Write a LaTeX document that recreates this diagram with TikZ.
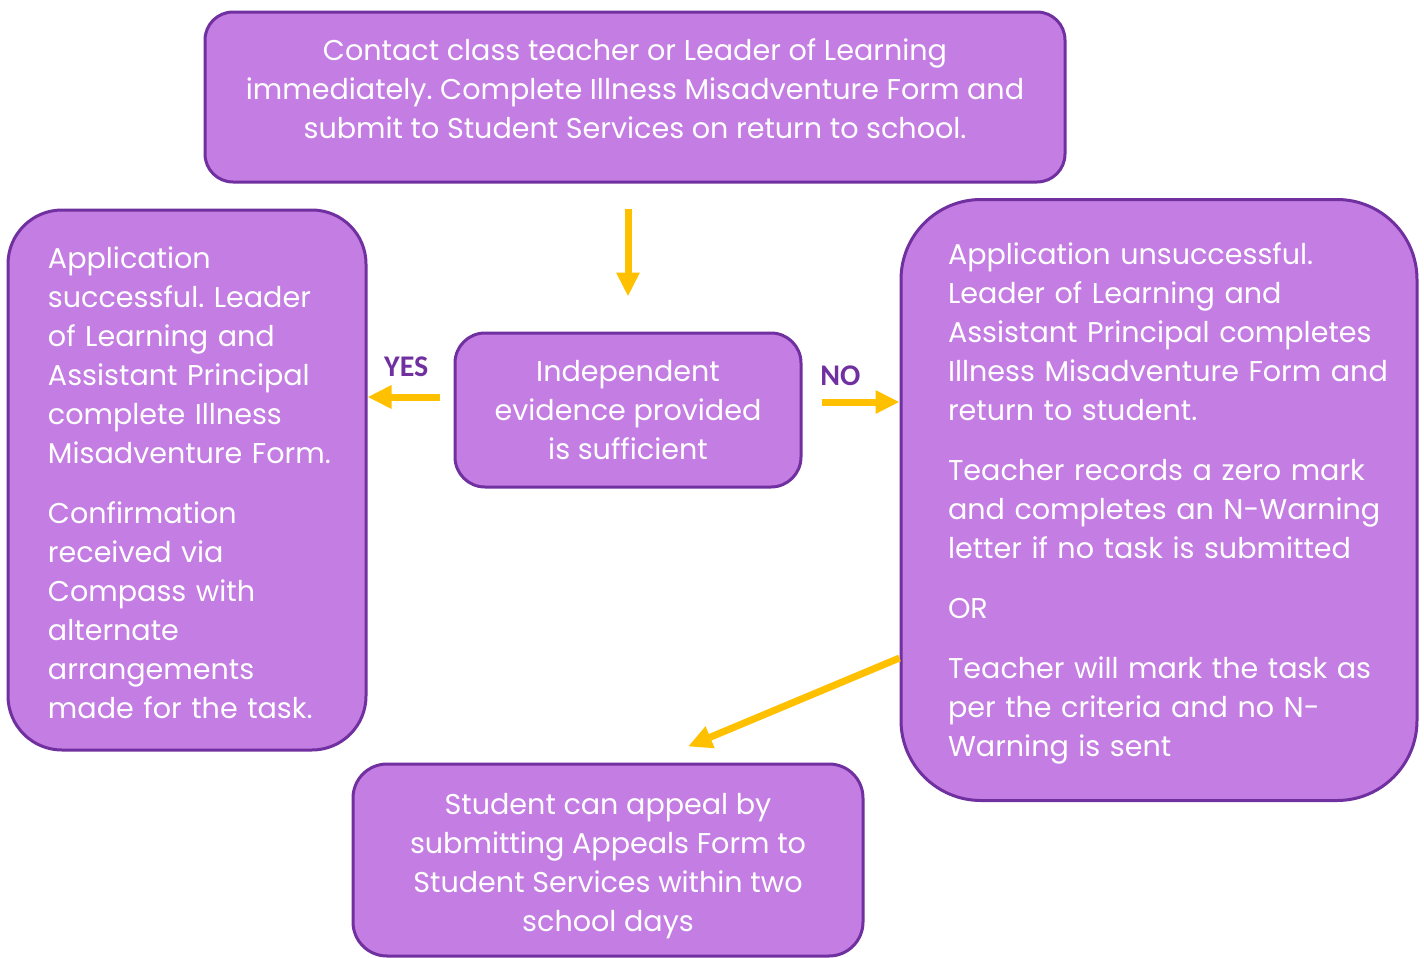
\documentclass[tikz,border=0pt]{standalone}
\usepackage{fontspec}
\setmainfont{Poppins}
\newfontfamily\labelfont{Carlito}
\usetikzlibrary{arrows.meta, positioning, calc}
\definecolor{boxpurple}{HTML}{C47DE2}
\definecolor{edgepurple}{HTML}{7030A0}
\definecolor{arrowgold}{HTML}{FFC000}
\tikzset{
    box/.style={rectangle, draw=edgepurple, line width=1.5pt, fill=boxpurple, text=white, align=center,
        font=\fontsize{14.3}{19.5}\selectfont\frenchspacing, inner xsep=0pt, inner ysep=0pt},
    sidebox/.style={box, align=left},
    arrow/.style={-{Triangle[length=12pt, width=11pt]}, line width=3.5pt, draw=arrowgold},
    answer/.style={font=\labelfont\bfseries\fontsize{15}{18}\selectfont, text=edgepurple}
}
% left margin of the text inside the side boxes
\newcommand{\sidemargin}[1]{\leftskip=#1\relax\rule{0pt}{14pt}}

\begin{document}
\begin{tikzpicture}[x=0.5pt, y=-0.5pt]
        \useasboundingbox (0,0) rectangle (1424,958);

        \node[box, rounded corners=14pt, minimum width=430pt, minimum height=85pt] (contact) at (635,97)
            {Contact class teacher or Leader of Learning\\immediately. Complete Illness Misadventure Form and\\submit to Student Services on return to school.\rule[-8pt]{0pt}{8pt}};
        \node[box, rounded corners=15pt, minimum width=173pt, minimum height=77pt] (evidence) at (628,410)
            {Independent\\evidence provided\\is sufficient};
        \node[sidebox, rounded corners=27pt, text width=179pt, minimum height=270pt] (success) at (187,480)
            {\sidemargin{20pt}Application\\successful. Leader\\of Learning and\\Assistant Principal\\complete Illness\\Misadventure Form.\\[10.5pt]
             Confirmation\\received via\\Compass with\\alternate\\arrangements\\made for the task.\par};
        \node[sidebox, rounded corners=40pt, text width=258pt, minimum height=300.5pt] (fail) at (1159,500)
            {\sidemargin{23.5pt}Application unsuccessful.\\Leader of Learning and\\Assistant Principal completes\\Illness Misadventure Form and\\return to student.\\[10.5pt]
             Teacher records a zero mark\\and completes an N-Warning\\letter if no task is submitted\\[10.5pt]
             OR\\[10.5pt]
             Teacher will mark the task as\\per the criteria and no N-\\Warning is sent\par};
        \node[box, rounded corners=17pt, minimum width=255pt, minimum height=96pt] (appeal) at (608,860)
            {\rule{0pt}{17pt}Student can appeal by\\submitting Appeals Form to\\Student Services within two\\school days};

        \draw[arrow, shorten <=12.5pt, shorten >=17.5pt] (evidence.north |- contact.south) -- (evidence.north);
        \draw[arrow, shorten <=7pt] ([yshift=6.5pt]evidence.west) -- ([yshift=6.5pt]evidence.west -| success.east)
            node[pos=0.55, above=5pt, answer] {YES};
        \draw[arrow, shorten <=9.5pt] ([yshift=4pt]evidence.east) -- ([yshift=4pt]evidence.east -| fail.west)
            node[pos=0.39, above=3pt, answer] {NO};
        \draw[arrow] ([yshift=-79pt]fail.west) -- ([xshift=40pt, yshift=8pt]appeal.north);
    \end{tikzpicture}
\end{document}
